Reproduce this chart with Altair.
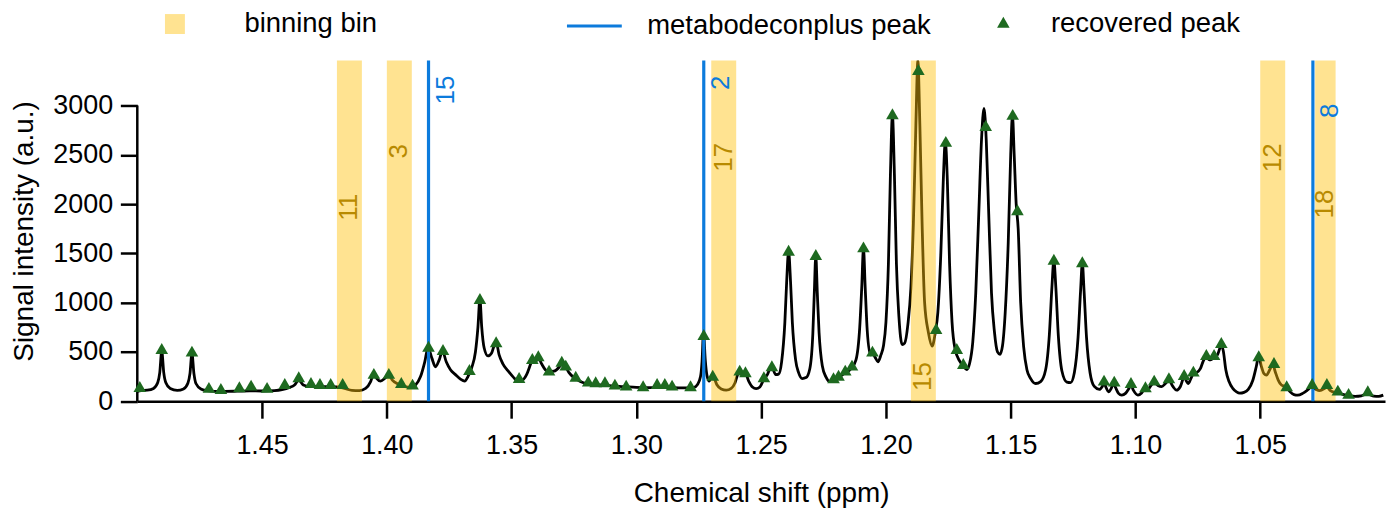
import altair as alt
import pandas as pd

# ---------------- data ----------------
curve_ppm = [
    1.5000, 1.4985, 1.4960, 1.4935, 1.4918, 1.4910, 1.4902, 1.4894, 1.4886, 1.4868,
    1.4840, 1.4815, 1.4797, 1.4789, 1.4781, 1.4773, 1.4765, 1.4745, 1.4720, 1.4690,
    1.4650, 1.4600, 1.4550, 1.4500, 1.4450, 1.4420, 1.4390, 1.4370, 1.4353, 1.4335,
    1.4310, 1.4280, 1.4250, 1.4200, 1.4170, 1.4140, 1.4110, 1.4085, 1.4065, 1.4052,
    1.4040, 1.4025, 1.4005, 1.3992, 1.3978, 1.3955, 1.3930, 1.3905, 1.3885, 1.3865,
    1.3848, 1.3835, 1.3820, 1.3805, 1.3790, 1.3777, 1.3762, 1.3745, 1.3725, 1.3705,
    1.3688, 1.3675, 1.3660, 1.3645, 1.3635, 1.3627, 1.3620, 1.3610, 1.3595, 1.3580,
    1.3568, 1.3562, 1.3550, 1.3535, 1.3515, 1.3495, 1.3475, 1.3460, 1.3440, 1.3425,
    1.3417, 1.3405, 1.3393, 1.3380, 1.3365, 1.3350, 1.3330, 1.3310, 1.3299, 1.3290,
    1.3283, 1.3270, 1.3255, 1.3240, 1.3220, 1.3200, 1.3170, 1.3140, 1.3100, 1.3050,
    1.3000, 1.2950, 1.2900, 1.2850, 1.2800, 1.2770, 1.2755, 1.2743, 1.2737, 1.2731,
    1.2724, 1.2717, 1.2708, 1.2698, 1.2690, 1.2678, 1.2660, 1.2640, 1.2620, 1.2605,
    1.2592, 1.2586, 1.2575, 1.2563, 1.2550, 1.2535, 1.2520, 1.2505, 1.2489, 1.2475,
    1.2462, 1.2455, 1.2442, 1.2430, 1.2418, 1.2405, 1.2398, 1.2390, 1.2382, 1.2375,
    1.2362, 1.2350, 1.2335, 1.2320, 1.2305, 1.2293, 1.2287, 1.2281, 1.2275, 1.2268,
    1.2255, 1.2240, 1.2225, 1.2210, 1.2190, 1.2165, 1.2140, 1.2120, 1.2105, 1.2097,
    1.2090, 1.2083, 1.2075, 1.2062, 1.2054, 1.2042, 1.2032, 1.2020, 1.2010, 1.2000,
    1.1990, 1.1982, 1.1974, 1.1966, 1.1958, 1.1948, 1.1935, 1.1925, 1.1912, 1.1900,
    1.1890, 1.1880, 1.1872, 1.1864, 1.1855, 1.1845, 1.1830, 1.1815, 1.1802, 1.1792,
    1.1780, 1.1770, 1.1762, 1.1754, 1.1745, 1.1735, 1.1723, 1.1705, 1.1690, 1.1676,
    1.1665, 1.1652, 1.1640, 1.1628, 1.1617, 1.1607, 1.1598, 1.1588, 1.1577, 1.1565,
    1.1553, 1.1543, 1.1533, 1.1522, 1.1510, 1.1500, 1.1493, 1.1486, 1.1478, 1.1470,
    1.1460, 1.1448, 1.1435, 1.1420, 1.1400, 1.1380, 1.1360, 1.1345, 1.1335, 1.1327,
    1.1319, 1.1309, 1.1295, 1.1275, 1.1260, 1.1245, 1.1230, 1.1220, 1.1213, 1.1206,
    1.1196, 1.1182, 1.1165, 1.1145, 1.1133, 1.1126, 1.1118, 1.1108, 1.1097, 1.1089,
    1.1080, 1.1068, 1.1055, 1.1040, 1.1025, 1.1018, 1.1008, 1.0990, 1.0975, 1.0962,
    1.0950, 1.0938, 1.0925, 1.0910, 1.0895, 1.0880, 1.0866, 1.0850, 1.0835, 1.0820,
    1.0805, 1.0795, 1.0788, 1.0778, 1.0768, 1.0755, 1.0740, 1.0728, 1.0716, 1.0705,
    1.0695, 1.0685, 1.0672, 1.0663, 1.0656, 1.0648, 1.0638, 1.0625, 1.0610, 1.0595,
    1.0582, 1.0565, 1.0548, 1.0530, 1.0516, 1.0506, 1.0496, 1.0485, 1.0475, 1.0462,
    1.0450, 1.0440, 1.0428, 1.0415, 1.0400, 1.0394, 1.0380, 1.0365, 1.0350, 1.0330,
    1.0310, 1.0295, 1.0280, 1.0262, 1.0245, 1.0233, 1.0220, 1.0205, 1.0189, 1.0170,
    1.0146, 1.0120, 1.0095, 1.0075, 1.0065, 1.0045, 1.0025, 1.0007,
]
curve_int = [
    100, 108, 112, 130, 190, 290, 510, 290, 190, 130,
    110, 125, 185, 280, 485, 280, 180, 125, 108, 100,
    100, 102, 105, 104, 108, 118, 140, 165, 215, 165,
    150, 148, 148, 145, 130, 110, 108, 130, 200, 285,
    230, 205, 240, 265, 215, 175, 150, 140, 165, 250,
    400, 545, 440, 350, 420, 510, 400, 320, 270, 225,
    205, 250, 340, 500, 750, 1040, 760, 540, 460, 490,
    580, 600, 470, 380, 310, 250, 205, 210, 270, 370,
    425, 400, 440, 380, 320, 300, 305, 345, 385, 350,
    345, 290, 250, 225, 195, 180, 170, 165, 155, 148,
    140, 138, 140, 138, 135, 140, 170, 250, 400, 700,
    420, 260, 205, 250, 240, 170, 125, 112, 130, 185,
    285, 300, 260, 280, 205, 145, 128, 145, 225, 270,
    340, 335, 270, 275, 400, 800, 1200, 1520, 1200, 800,
    420, 290, 230, 240, 330, 680, 1100, 1475, 1100, 700,
    360, 245, 200, 215, 240, 285, 330, 420, 750, 1150,
    1550, 1150, 720, 470, 485, 440, 400, 470, 560, 800,
    1400, 2300, 2900, 2300, 1400, 860, 575, 590, 780, 1150,
    1800, 2800, 3456, 2800, 1800, 1000, 700, 560, 700, 900,
    1500, 2250, 2640, 2250, 1400, 800, 530, 410, 360, 320,
    380, 600, 1100, 1900, 2650, 2970, 2650, 1900, 1100, 700,
    500, 476, 560, 900, 1600, 2500, 2900, 2500, 2000, 1750,
    1000, 550, 320, 230, 180, 200, 320, 680, 1150, 1430,
    1150, 660, 310, 195, 190, 290, 650, 1120, 1400, 1120,
    640, 290, 150, 120, 150, 185, 140, 95, 130, 180,
    140, 80, 62, 80, 135, 165, 110, 62, 85, 125,
    120, 160, 190, 160, 148, 180, 215, 150, 112, 150,
    245, 200, 180, 230, 280, 290, 330, 410, 450, 420,
    425, 455, 470, 530, 575, 510, 320, 200, 130, 95,
    82, 90, 120, 210, 350, 460, 360, 280, 265, 320,
    375, 300, 215, 165, 150, 140, 95, 68, 62, 80,
    115, 145, 125, 108, 125, 148, 110, 92, 88, 70,
    58, 50, 55, 72, 70, 52, 50, 62,
]

peak_ppm = [
    1.4990, 1.4902, 1.4781, 1.4713, 1.4665, 1.4591, 1.4544, 1.4480, 1.4409, 1.4353,
    1.4304, 1.4268, 1.4225, 1.4177, 1.4052, 1.3992, 1.3942, 1.3897, 1.3833, 1.3775,
    1.3669, 1.3627, 1.3562, 1.3470, 1.3417, 1.3393, 1.3350, 1.3299, 1.3283, 1.3243,
    1.3193, 1.3163, 1.3126, 1.3086, 1.3041, 1.2973, 1.2917, 1.2886, 1.2857, 1.2783,
    1.2730, 1.2694, 1.2586, 1.2563, 1.2489, 1.2457, 1.2390, 1.2281, 1.2210, 1.2190,
    1.2163, 1.2136, 1.2090, 1.2054, 1.1974, 1.1870, 1.1799, 1.1760, 1.1716, 1.1690,
    1.1600, 1.1492, 1.1473, 1.1327, 1.1213, 1.1126, 1.1085, 1.1018, 1.0960, 1.0925,
    1.0866, 1.0805, 1.0768, 1.0716, 1.0685, 1.0656, 1.0506, 1.0445, 1.0394, 1.0292,
    1.0233, 1.0189, 1.0146, 1.0069,
]
peak_int = [
    132, 517, 490, 122, 111, 129, 145, 122, 162, 230,
    172, 162, 162, 162, 264, 264, 172, 155, 540, 507,
    304, 1024, 585, 223, 416, 443, 297, 388, 348, 236,
    186, 179, 179, 155, 145, 139, 162, 162, 145, 139,
    659, 246, 297, 281, 230, 341, 1513, 1470, 220, 246,
    297, 348, 1548, 490, 2899, 3348, 720, 2618, 517, 365,
    2780, 2892, 1925, 1422, 1396, 196, 186, 172, 129, 196,
    220, 253, 287, 456, 456, 578, 443, 375, 139, 162,
    162, 94, 61, 88,
]

bin_start = [1.420, 1.400, 1.270, 1.190, 1.050, 1.0280]
bin_end = [1.410, 1.390, 1.260, 1.180, 1.040, 1.0198]
bin_label = ["11", "3", "17", "15", "12", "18"]
bin_label_y = [1969, 2536, 2475, 250, 2470, 2000]

mdc_ppm = [1.3833, 1.2730, 1.0289]
mdc_label = ["15", "2", "8"]
mdc_label_y = [3304, 3304, 3021]

x_ticks = [1.45, 1.40, 1.35, 1.30, 1.25, 1.20, 1.15, 1.10, 1.05]
y_ticks = [0, 500, 1000, 1500, 2000, 2500, 3000]
legend_labels = ["binning bin", "metabodeconplus peak", "recovered peak"]

X_DOMAIN = [1.0, 1.5]
Y_DOMAIN = [0, 3456]

# ---------------- styling ----------------
FONT = "Liberation Sans"
GOLD = "#FFC20A"
GOLD_TEXT = "#B88A00"
BLUE = "#0C7BDC"
GREEN = "#1E6A20"
TRI = "M0,-1.155L1,0.577L-1,0.577Z"
W, H = 1251.6, 341.7
LEG_FS = 27.5

curve_df = pd.DataFrame({"ppm": curve_ppm, "intensity": curve_int})
peak_df = pd.DataFrame({"ppm": peak_ppm, "intensity": peak_int, "kind": legend_labels[2]})
bin_df = pd.DataFrame({"start": bin_start, "end": bin_end, "label": bin_label,
                       "ly": bin_label_y, "kind": legend_labels[0]})
bin_df["mid"] = (bin_df["start"] + bin_df["end"]) / 2
mdc_df = pd.DataFrame({"pos": mdc_ppm, "label": mdc_label, "ly": mdc_label_y,
                       "kind": legend_labels[1]})

xscale = alt.Scale(domain=X_DOMAIN, reverse=True, nice=False, zero=False)
yscale = alt.Scale(domain=Y_DOMAIN, nice=False, zero=False)

xaxis = alt.Axis(values=x_ticks, format=".2f", title="Chemical shift (ppm)",
                 tickSize=17, tickWidth=2.5, tickColor="black",
                 domainWidth=2.5, domainColor="black",
                 labelFont=FONT, labelFontSize=27, labelColor="black", labelPadding=14,
                 labelFlush=False, titleFont=FONT, titleFontSize=28,
                 titleFontWeight="normal", titleColor="black", titlePadding=22, grid=False)
yaxis = alt.Axis(values=y_ticks, format="d", title="Signal intensity (a.u.)", domain=False,
                 tickSize=17, tickWidth=2.5, tickColor="black",
                 labelFont=FONT, labelFontSize=27, labelColor="black", labelPadding=7.7,
                 labelFlush=False, titleFont=FONT, titleFontSize=28,
                 titleFontWeight="normal", titleColor="black", titlePadding=14, grid=False)


def X(field):
    return alt.X(f"{field}:Q", scale=xscale, axis=xaxis)


def Y(field):
    return alt.Y(f"{field}:Q", scale=yscale, axis=yaxis)


def leg(x, y, **kw):
    return alt.Legend(orient="none", legendX=x, legendY=y, title=None,
                      labelFont=FONT, labelFontSize=LEG_FS, labelColor="black",
                      labelLimit=0, padding=0, **kw)


line = alt.Chart(curve_df).mark_line(color="black", strokeWidth=2.8, clip=True,
                                     interpolate="monotone").encode(
    x=X("ppm"), y=Y("intensity"), order="ppm:Q")

bins = alt.Chart(bin_df).mark_rect(opacity=0.45).encode(
    x=X("start"), x2="end:Q",
    y=alt.YDatum(Y_DOMAIN[0], scale=yscale, axis=yaxis), y2=alt.Y2Datum(Y_DOMAIN[1]),
    fill=alt.Fill("kind:N", scale=alt.Scale(domain=[legend_labels[0]], range=[GOLD]),
                  legend=leg(24, -50.45, symbolType="square", symbolSize=400,
                             symbolOpacity=0.45, symbolStrokeWidth=0, labelOffset=56)))

yline = alt.Chart(curve_df.head(1)).mark_rule(color="black", strokeWidth=2.5).encode(
    x=alt.value(0),
    y=alt.YDatum(y_ticks[0], scale=yscale, axis=yaxis), y2=alt.Y2Datum(y_ticks[-1]))

rules = alt.Chart(mdc_df).mark_rule(strokeWidth=3.2).encode(
    x=X("pos"),
    stroke=alt.Stroke("kind:N", scale=alt.Scale(domain=[legend_labels[1]], range=[BLUE]),
                      legend=leg(429, -64.2, symbolType="stroke", symbolSize=3025,
                                 symbolStrokeWidth=3.2, labelOffset=23.5)))

points = alt.Chart(peak_df).mark_point(filled=True, size=160, opacity=1, color=GREEN).encode(
    x=X("ppm"), y=Y("intensity"),
    shape=alt.Shape("kind:N", scale=alt.Scale(domain=[legend_labels[2]], range=[TRI]),
                    legend=leg(855, -50.45, symbolSize=160, symbolFillColor=GREEN,
                               symbolStrokeWidth=0, labelOffset=34)))

bin_text = alt.Chart(bin_df).mark_text(angle=270, font=FONT, fontSize=26, color=GOLD_TEXT,
                                       align="center", baseline="middle").encode(
    x=X("mid"), y=Y("ly"), text="label:N")

mdc_text = alt.Chart(mdc_df).mark_text(angle=270, font=FONT, fontSize=26, color=BLUE,
                                       align="right", baseline="middle", xOffset=17.5).encode(
    x=X("pos"), y=Y("ly"), text="label:N")

chart = alt.layer(line, bins, rules, yline, points, bin_text, mdc_text).properties(
    width=W, height=H,
    autosize=alt.AutoSizeParams(type="none"),
    padding={"left": 129.7, "top": 52, "right": 5, "bottom": 107},
    background="white",
).configure_view(stroke=None)

chart.save("out.html", embed_options={"renderer": "svg", "actions": False})
